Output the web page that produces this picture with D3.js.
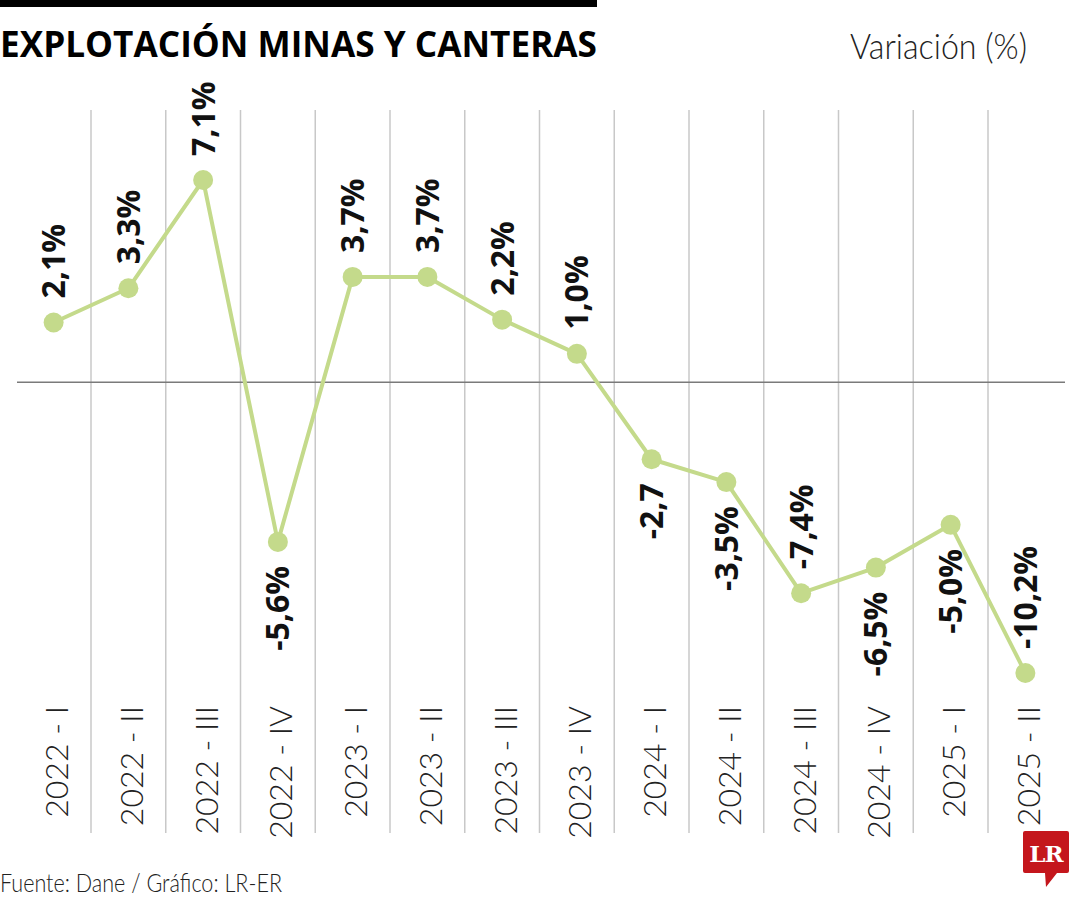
<!DOCTYPE html>
<html>
<head>
<meta charset="utf-8">
<script src="https://cdn.jsdelivr.net/npm/d3@7"></script>
<style>
  html, body { margin: 0; padding: 0; background: #fff; }
  svg { display: block; }
</style>
</head>
<body>
<div id="chart"></div>
<script>
// trimestres del eje
const trimestres = [
  '2022 - I', '2022 - II', '2022 - III', '2022 - IV',
  '2023 - I', '2023 - II', '2023 - III', '2023 - IV',
  '2024 - I', '2024 - II', '2024 - III', '2024 - IV',
  '2025 - I', '2025 - II'
];

// variacion anual (%)
const variacion = [2.1, 3.3, 7.1, -5.6, 3.7, 3.7, 2.2, 1.0, -2.7, -3.5, -7.4, -6.5, -5.0, -10.2];

// etiquetas tal como salen en el grafico
const etiquetas = ['2,1%', '3,3%', '7,1%', '-5,6%', '3,7%', '3,7%', '2,2%', '1,0%',
  '-2,7', '-3,5%', '-7,4%', '-6,5%', '-5,0%', '-10,2%'];

const W = 1080, H = 900;
const verde = '#c4da8b';
const fuenteFina = 'Lato, "Open Sans", sans-serif';

const svg = d3.select('#chart').append('svg')
  .attr('width', W)
  .attr('height', H);

const x = d3.scaleBand()
  .domain(trimestres)
  .range([16.25, 1062.75])
  .padding(0);

const y = d3.scaleLinear()
  .domain([d3.min(variacion), d3.max(variacion)])
  .range([673, 180]);

const cx = (d) => x(d) + x.bandwidth() / 2;

// barra negra arriba
svg.append('rect')
  .attr('x', 0)
  .attr('y', 0)
  .attr('width', 597)
  .attr('height', 7)
  .attr('fill', '#000');

svg.append('text')
  .attr('x', 0)
  .attr('y', 57)
  .attr('textLength', 597)
  .attr('lengthAdjust', 'spacingAndGlyphs')
  .style('font-family', '"Open Sans", sans-serif')
  .style('font-weight', 700)
  .style('font-size', '35px')
  .attr('fill', '#000')
  .text('EXPLOTACIÓN MINAS Y CANTERAS');

svg.append('text')
  .attr('x', 1027)
  .attr('y', 59)
  .attr('text-anchor', 'end')
  .attr('textLength', 177)
  .attr('lengthAdjust', 'spacingAndGlyphs')
  .style('font-family', fuenteFina)
  .style('font-weight', 300)
  .style('font-size', '36px')
  .attr('fill', '#222')
  .text('Variación (%)');

// lineas verticales entre trimestres
svg.append('g')
  .selectAll('line')
  .data(trimestres.slice(1))
  .join('line')
  .attr('x1', (d) => x(d))
  .attr('x2', (d) => x(d))
  .attr('y1', 110)
  .attr('y2', 833)
  .attr('stroke', '#c8c8c8')
  .attr('stroke-width', 1.5);

// linea del cero
svg.append('line')
  .attr('x1', 17)
  .attr('x2', 1065)
  .attr('y1', y(0))
  .attr('y2', y(0))
  .attr('stroke', '#7a7a7a')
  .attr('stroke-width', 1.5);

const puntos = trimestres.map((t, i) => ({ t: t, v: variacion[i], lab: etiquetas[i] }));

const linea = d3.line()
  .x((d) => cx(d.t))
  .y((d) => y(d.v));

svg.append('path')
  .datum(puntos)
  .attr('d', linea)
  .attr('fill', 'none')
  .attr('stroke', verde)
  .attr('stroke-width', 4)
  .attr('stroke-linejoin', 'round');

svg.append('g')
  .selectAll('circle')
  .data(puntos)
  .join('circle')
  .attr('cx', (d) => cx(d.t))
  .attr('cy', (d) => y(d.v))
  .attr('r', 10)
  .attr('fill', verde);

// etiquetas de valor, giradas; arriba si es positivo o muy negativo
const arriba = (d) => d.v >= 0 || d.v < -7;

svg.append('g')
  .selectAll('text')
  .data(puntos)
  .join('text')
  .attr('transform', (d) => {
    const yy = arriba(d) ? y(d.v) - 24 : y(d.v) + 24;
    return 'translate(' + cx(d.t) + ',' + yy + ') rotate(-90)';
  })
  .attr('text-anchor', (d) => arriba(d) ? 'start' : 'end')
  .attr('dy', '0.36em')
  .style('font-family', '"Open Sans", sans-serif')
  .style('font-weight', 700)
  .style('font-size', '32px')
  .attr('fill', '#111')
  .text((d) => d.lab);

// etiquetas del eje x
svg.append('g')
  .selectAll('text')
  .data(trimestres)
  .join('text')
  .attr('transform', (d) => 'translate(' + (cx(d) + 3) + ',706) rotate(-90)')
  .attr('text-anchor', 'end')
  .attr('dy', '0.36em')
  .style('font-family', fuenteFina)
  .style('font-weight', 300)
  .style('font-size', '32px')
  .attr('fill', '#222')
  .text((d) => d);

svg.append('text')
  .attr('x', 0)
  .attr('y', 892)
  .attr('textLength', 282)
  .attr('lengthAdjust', 'spacingAndGlyphs')
  .style('font-family', fuenteFina)
  .style('font-weight', 300)
  .style('font-size', '25px')
  .attr('fill', '#222')
  .text('Fuente: Dane / Gráfico: LR-ER');

// logo LR
const logo = svg.append('g');
logo.append('path')
  .attr('d', 'M1025,831 H1067 Q1069,831 1069,833 V871 Q1069,873 1067,873 H1057 L1046,887 L1045,873 H1025 Q1023,873 1023,871 V833 Q1023,831 1025,831 Z')
  .attr('fill', '#c4161c');
logo.append('text')
  .attr('x', 1046)
  .attr('y', 862)
  .attr('text-anchor', 'middle')
  .style('font-family', '"DejaVu Serif", serif')
  .style('font-weight', 700)
  .style('font-size', '23px')
  .attr('letter-spacing', '-1px')
  .attr('fill', '#fff')
  .text('LR');
</script>
</body>
</html>
